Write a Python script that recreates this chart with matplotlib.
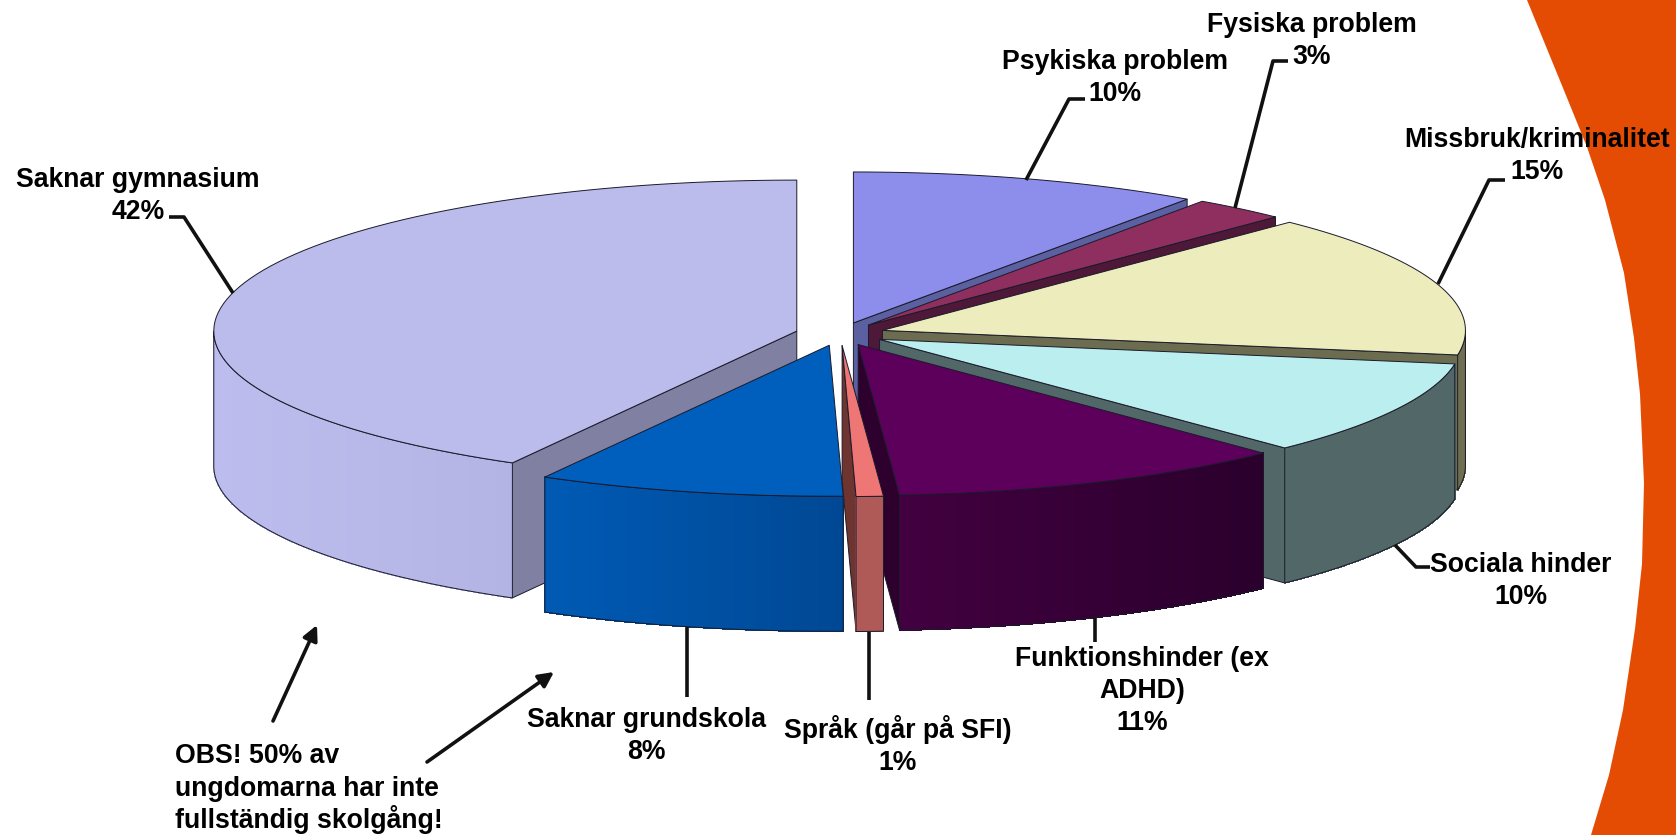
import numpy as np
import matplotlib
matplotlib.use("Agg")
import matplotlib.pyplot as plt
from matplotlib.patches import Polygon

plt.rcParams['font.family'] = ['Liberation Sans', 'DejaVu Sans']

# data (clockwise from 12 o'clock)
names = ["Psykiska problem", "Fysiska problem", "Missbruk/kriminalitet", "Sociala hinder",
         "Funktionshinder (ex\nADHD)", "Språk (går på SFI)", "Saknar grundskola", "Saknar gymnasium"]
values = [9.7, 2.6, 15.3, 10.17, 11.1, 0.75, 8.49, 41.89]
top_colors = ["#8D8DEB", "#8F2F60", "#ECECBC", "#BBEEEE", "#5C005C", "#EE7776", "#005EBC", "#BBBBEC"]
face_colors = ["#5A60A0", "#4E1838", "#6C6C50", "#526868", "#2D002D", "#6E3430", "#004A98", "#8080A2"]
wall_left = ["#5A60A0", "#4E1838", "#706E52", "#526868", "#420040", "#B05A58", "#005AB4", "#BCBCEE"]
wall_right = ["#5A60A0", "#4E1838", "#706E52", "#526868", "#2A002C", "#B05A58", "#004894", "#B4B4E4"]
draw_order = [0, 1, 2, 3, 7, 4, 5, 6]

label_xy = [(1115, 78), (1312, 41), (1537, 156), (1521, 581), (1142, 691), (898, 745), (646, 736), (138, 196)]
leaders = [[(1085, 99), (1069, 99), (1026, 180)],
           [(1288, 61), (1273, 61), (1235, 208)],
           [(1505, 180), (1489, 180), (1438, 284)],
           [(1430, 567), (1416, 567), (1395, 545)],
           [(1095, 618), (1095, 642)],
           [(869, 632), (869, 700)],
           [(687, 627), (687, 697)],
           [(169, 217), (184, 217), (233, 293)]]
note_lines = ["OBS! 50% av", "ungdomarna har inte", "fullständig skolgång!"]
note_y = [756, 789, 820]
arrows = [((273, 721), (317, 625)), ((427, 762), (554, 672))]
orange_edge = [(1527, 0), (1563, 88), (1587, 147), (1605, 200), (1624, 273), (1634, 338), (1640, 394),
               (1644, 483), (1642, 564), (1635, 629), (1623, 710), (1609, 775), (1591, 835)]

W, H = 1676, 835
cx, cy, rx, ry, depth, explode = 840, 334, 583, 151, 135, 0.0766
EDGE = "#1a1a2a"

fig = plt.figure(figsize=(W / 100, H / 100), dpi=100)
ax = fig.add_axes([0, 0, 1, 1])
ax.set_xlim(0, W)
ax.set_ylim(H, 0)
ax.axis("off")

ax.add_patch(Polygon(orange_edge + [(W, H), (W, 0)], closed=True, fc="#E54C03", ec="none", zorder=0))


def hex2rgb(c):
    return np.array(matplotlib.colors.to_rgb(c))


def rim(ax0, ay0, t):
    t = np.radians(t)
    return ax0 + rx * np.sin(t), ay0 - ry * np.cos(t)


cum = np.concatenate([[0], np.cumsum(values)]) * 3.6
z = 1


def poly(pts, fc, lw=0.7, ec=EDGE):
    global z
    ax.add_patch(Polygon(pts, closed=True, fc=fc, ec=ec, lw=lw, zorder=z, joinstyle="round"))
    z += 1


for i in draw_order:
    t0, t1 = cum[i], cum[i + 1]
    mid = np.radians((t0 + t1) / 2)
    ax0 = cx + explode * rx * np.sin(mid)
    ay0 = cy - explode * ry * np.cos(mid)
    ts = np.linspace(t0, t1, 90)
    rim_x, rim_y = rim(ax0, ay0, ts)
    # radial cut faces
    for t in (t0, t1):
        visible = (t == t1 and 0 < t < 180) or (t == t0 and 180 < t < 360)
        if visible:
            px, py = rim(ax0, ay0, t)
            poly([(ax0, ay0), (px, py), (px, py + depth), (ax0, ay0 + depth)], face_colors[i])
    # outer wall with a left-to-right shading
    a, b = max(t0, 90), min(t1, 270)
    if b > a:
        strips = np.linspace(a, b, 60)
        xs, ys = rim(ax0, ay0, strips)
        c0, c1 = hex2rgb(wall_left[i]), hex2rgb(wall_right[i])
        left, right = xs.min(), xs.max()
        for k in range(len(strips) - 1):
            f = ((xs[k] + xs[k + 1]) / 2 - left) / max(right - left, 1)
            col = c0 + (c1 - c0) * f
            ax.add_patch(Polygon([(xs[k], ys[k]), (xs[k + 1], ys[k + 1]),
                                  (xs[k + 1], ys[k + 1] + depth), (xs[k], ys[k] + depth)],
                                 closed=True, fc=col, ec=col, lw=0.5, zorder=z, antialiased=False))
        z += 1
        outline = list(zip(xs, ys)) + list(zip(xs[::-1], ys[::-1] + depth))
        ax.add_patch(Polygon(outline, closed=True, fc="none", ec=EDGE, lw=0.7, zorder=z))
        z += 1
    # top
    poly([(ax0, ay0)] + list(zip(rim_x, rim_y)), top_colors[i])

for line in leaders:
    xs, ys = zip(*line)
    ax.plot(xs, ys, color="#111111", lw=2.6, zorder=200, solid_capstyle="butt")

for name, v, (x, y) in zip(names, values, label_xy):
    ax.text(x, y, f"{name}\n{v:.0f}%", ha="center", va="center", fontsize=19.2, fontweight="bold",
            color="black", linespacing=1.3, zorder=300)

for text, y in zip(note_lines, note_y):
    ax.text(175, y, text, ha="left", va="center", fontsize=19.2, fontweight="bold", color="black", zorder=300)

for start, end in arrows:
    ax.annotate("", xy=end, xytext=start, zorder=250,
                arrowprops=dict(arrowstyle="-|>,head_length=0.9,head_width=0.45", color="#111111", lw=2.6,
                                shrinkA=0, shrinkB=0))

fig.savefig("out.png", dpi=100, facecolor="white")
